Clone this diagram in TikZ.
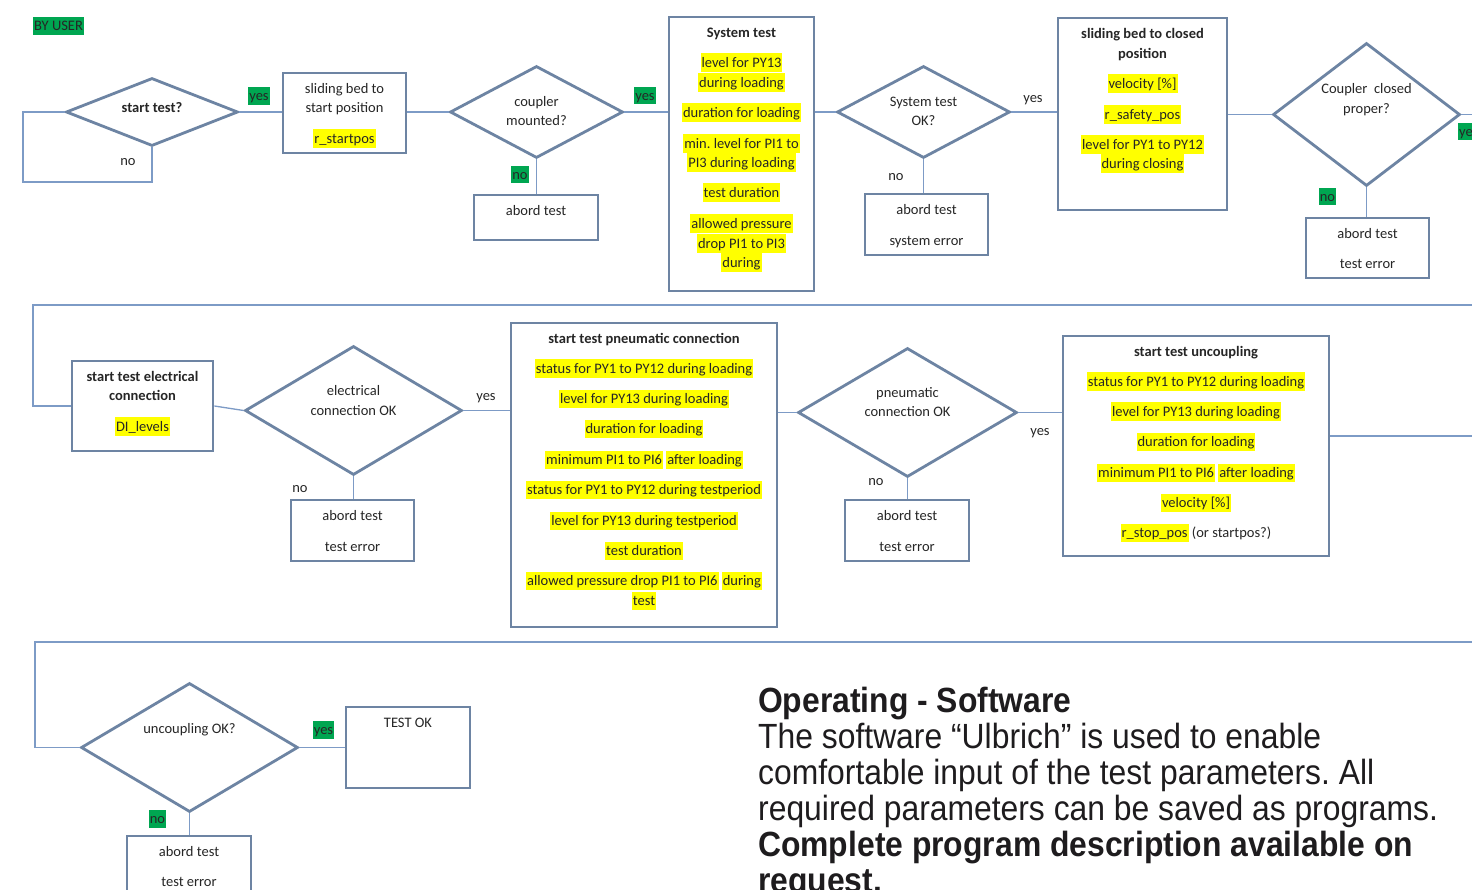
\documentclass[tikz,border=0pt]{standalone}
\usepackage{fontspec}
\setmainfont{Carlito}
\newfontfamily\notefont[FakeStretch=0.91]{Liberation Sans}
\usetikzlibrary{shapes.geometric}
\frenchspacing

\definecolor{shpc}{RGB}{109,132,163}
\definecolor{lnc}{RGB}{125,155,198}
\definecolor{hlgreen}{RGB}{0,166,81}
\definecolor{hlyellow}{RGB}{255,255,0}
\definecolor{txtc}{RGB}{38,38,38}
\definecolor{notec}{RGB}{30,28,30}

% highlighted text runs
\newcommand{\hly}[1]{{\setlength{\fboxsep}{0pt}\colorbox{hlyellow}{\rule[-4.5pt]{0pt}{18.5pt}\kern1pt#1\kern1pt}}}
\newcommand{\hlg}[1]{{\setlength{\fboxsep}{0pt}\colorbox{hlgreen}{\rule[-4pt]{0pt}{17.5pt}\kern1pt#1\kern1pt}}}

\tikzset{
  box/.style={draw=shpc, line width=2.8pt, rectangle, inner sep=0pt},
  dec/.style={draw=shpc, line width=2.8pt, diamond, aspect=1, inner sep=0pt},
  conn/.style={draw=lnc, line width=1.3pt},
  txt/.style={inner sep=0pt, anchor=base, yshift=-1pt, text=txtc, font=\fontsize{14.5}{20}\selectfont},
  btxt/.style={txt, font=\fontsize{14.5}{20}\selectfont\bfseries},
  note/.style={inner sep=0pt, anchor=base west, text=notec, font=\notefont\fontsize{35}{36}\selectfont},
  bnote/.style={note, font=\notefont\fontsize{35}{36}\selectfont\bfseries},
}

\begin{document}
\begin{tikzpicture}[x=1pt, y=-1pt]
\useasboundingbox (0,0) rectangle (1472,890);
\clip (0,0) rectangle (1472,890);
\fill[white] (0,0) rectangle (1472,890);

\node[txt, anchor=base west] (byuser) at (33,30) {\hlg{BY USER}};

% ---------------- first row ----------------
\node[dec, minimum width=172, minimum height=68] (d1) at (152,112) {};
\node[btxt] (d1t) at (152,111.5) {start test?};
\coordinate (loop) at (23,182);
\draw[conn] (d1.west) -| (loop) -| (d1.south);
\node[txt] (d1no) at (128,164.5) {no};

\node[box, minimum width=123, minimum height=80] (sb) at (344.5,113) {};
\node[txt] (sb1) at (344.5,92.5) {sliding bed to};
\node[txt] (sb2) at (344.5,111.5) {start position};
\node[txt] (sb3) at (344.5,142.5) {\hly{r\_startpos}};
\draw[conn] (d1.east) -- (d1.east -| sb.west);
\node[txt] (d1yes) at (259,100) {\hlg{yes}};

\node[dec, minimum width=173, minimum height=92] (d2) at (536.5,112) {};
\node[txt] (d2a) at (536.5,105.5) {coupler};
\node[txt] (d2b) at (536.5,124.5) {mounted?};
\draw[conn] (d2.west -| sb.east) -- (d2.west);

\node[box, minimum width=124, minimum height=45] (ab1) at (536,217.5) {};
\node[txt] (ab1a) at (536,214.5) {abord test};
\draw[conn] (d2.south) -- (d2.south |- ab1.north);
\node[txt] (d2no) at (520,178.5) {\hlg{no}};

\node[box, minimum width=145, minimum height=274] (sys) at (741.5,154) {};
\node[btxt] (sys0) at (741.5,36.5) {System test};
\node[txt] (sys1) at (741.5,66.5) {\hly{level for PY13}};
\node[txt] (sys2) at (741.5,86.5) {\hly{during loading}};
\node[txt] (sys3) at (741.5,116.5) {\hly{duration for loading}};
\node[txt] (sys4) at (741.5,147.5) {\hly{min. level for PI1 to}};
\node[txt] (sys5) at (741.5,166.5) {\hly{PI3 during loading}};
\node[txt] (sys6) at (741.5,196.5) {\hly{test duration}};
\node[txt] (sys7) at (741.5,227.5) {\hly{allowed pressure}};
\node[txt] (sys8) at (741.5,247.5) {\hly{drop PI1 to PI3}};
\node[txt] (sys9) at (741.5,266.5) {\hly{during}};
\draw[conn] (d2.east) -- (d2.east -| sys.west);
\node[txt] (d2yes) at (645,99.5) {\hlg{yes}};

\node[dec, minimum width=173, minimum height=92] (d3) at (923.5,112) {};
\node[txt] (d3a) at (923.5,105.5) {System test};
\node[txt] (d3b) at (923.5,124.5) {OK?};
\draw[conn] (d3.west -| sys.east) -- (d3.west);

\node[box, minimum width=123, minimum height=61] (ab2) at (926.5,224.5) {};
\node[txt] (ab2a) at (926.5,213.5) {abord test};
\node[txt] (ab2b) at (926.5,244.5) {system error};
\draw[conn] (d3.south) -- (d3.south |- ab2.north);
\node[txt] (d3no) at (896,179.5) {no};

\node[box, minimum width=169, minimum height=192] (cl) at (1142.5,114) {};
\node[btxt] (cl0) at (1142.5,37.5) {sliding bed to closed};
\node[btxt] (cl1) at (1142.5,57.5) {position};
\node[txt] (cl2) at (1142.5,87.5) {\hly{velocity [\%]}};
\node[txt] (cl3) at (1142.5,118.5) {\hly{r\_safety\_pos}};
\node[txt] (cl4) at (1142.5,148.5) {\hly{level for PY1 to PY12}};
\node[txt] (cl5) at (1142.5,167.5) {\hly{during closing}};
\draw[conn] (d3.east) -- (d3.east -| cl.west);
\node[txt] (d3yes) at (1033,101.5) {yes};

\node[dec, minimum width=187, minimum height=143] (d4) at (1366.5,114.5) {};
\node[txt] (d4a) at (1366.5,92.5) {Coupler\ \ closed};
\node[txt] (d4b) at (1366.5,112.5) {proper?};
\draw[conn] (cl.east |- d4.west) -- (d4.west);
\coordinate (out1) at (1472,114.5);
\draw[conn] (d4.east) -- (out1);
\node[txt, anchor=base west] (d4yes) at (1458,135.5) {\hlg{yes}};

\node[box, minimum width=123, minimum height=60] (ab3) at (1367.5,248) {};
\node[txt] (ab3a) at (1367.5,237.5) {abord test};
\node[txt] (ab3b) at (1367.5,267.5) {test error};
\draw[conn] (d4.south) -- (d4.south |- ab3.north);
\node[txt] (d4no) at (1327.5,200.5) {\hlg{no}};

% ---------------- second row ----------------
\coordinate (wrapA) at (1472,305);
\coordinate (wrapB) at (33,305);
\node[box, minimum width=141, minimum height=90] (el) at (142.5,406) {};
\draw[conn] (wrapA) -- (wrapB) |- (el.west);
\node[btxt] (el0) at (142.5,380.5) {start test electrical};
\node[btxt] (el1) at (142.5,399.5) {connection};
\node[txt] (el2) at (142.5,430.5) {\hly{DI\_levels}};

\node[dec, minimum width=217, minimum height=129] (d5) at (353.5,410.5) {};
\node[txt] (d5a) at (353.5,394.5) {electrical};
\node[txt] (d5b) at (353.5,414.5) {connection OK};
\draw[conn] (el.east) -- (d5.west);

\node[box, minimum width=123, minimum height=61] (ab4) at (352.5,530.5) {};
\node[txt] (ab4a) at (352.5,519.5) {abord test};
\node[txt] (ab4b) at (352.5,550.5) {test error};
\draw[conn] (d5.south) -- (d5.south |- ab4.north);
\node[txt] (d5no) at (300,491.5) {no};

\node[box, minimum width=266, minimum height=304] (pn) at (644,475) {};
\node[btxt] (pn0) at (644,342.5) {start test pneumatic connection};
\node[txt] (pn1) at (644,372.5) {\hly{status for PY1 to PY12 during loading}};
\node[txt] (pn2) at (644,402.5) {\hly{level for PY13 during loading}};
\node[txt] (pn3) at (644,432.5) {\hly{duration for loading}};
\node[txt] (pn4) at (644,463.5) {\hly{minimum PI1 to PI6} \hly{after loading}};
\node[txt] (pn5) at (644,493.5) {\hly{status for PY1 to PY12 during testperiod}};
\node[txt] (pn6) at (644,524.5) {\hly{level for PY13 during testperiod}};
\node[txt] (pn7) at (644,554.5) {\hly{test duration}};
\node[txt] (pn8) at (644,584.5) {\hly{allowed pressure drop PI1 to PI6} \hly{during}};
\node[txt] (pn9) at (644,604.5) {\hly{test}};
\draw[conn] (d5.east) -- (d5.east -| pn.west);
\node[txt] (d5yes) at (486,399.5) {yes};

\node[dec, minimum width=219, minimum height=129] (d6) at (907.5,412.5) {};
\node[txt] (d6a) at (907.5,396.5) {pneumatic};
\node[txt] (d6b) at (907.5,415.5) {connection OK};
\draw[conn] (d6.west -| pn.east) -- (d6.west);

\node[box, minimum width=124, minimum height=61] (ab5) at (907,530.5) {};
\node[txt] (ab5a) at (907,519.5) {abord test};
\node[txt] (ab5b) at (907,550.5) {test error};
\draw[conn] (d6.south) -- (d6.south |- ab5.north);
\node[txt] (d6no) at (876,484.5) {no};

\node[box, minimum width=266, minimum height=220] (un) at (1196,446) {};
\node[btxt] (un0) at (1196,355.5) {start test uncoupling};
\node[txt] (un1) at (1196,385.5) {\hly{status for PY1 to PY12 during loading}};
\node[txt] (un2) at (1196,415.5) {\hly{level for PY13 during loading}};
\node[txt] (un3) at (1196,445.5) {\hly{duration for loading}};
\node[txt] (un4) at (1196,476.5) {\hly{minimum PI1 to PI6} \hly{after loading}};
\node[txt] (un5) at (1196,506.5) {\hly{velocity [\%]}};
\node[txt] (un6) at (1196,536.5) {\hly{r\_stop\_pos} (or startpos?)};
\draw[conn] (d6.east) -- (d6.east -| un.west);
\node[txt] (d6yes) at (1040,434.5) {yes};
\coordinate (out2) at (1472,436);
\draw[conn] (un.east |- out2) -- (out2);

% ---------------- third row ----------------
\coordinate (wrapC) at (1472,642);
\coordinate (wrapD) at (35,642);
\node[dec, minimum width=217, minimum height=129] (d7) at (189.5,747.5) {};
\node[txt] (d7a) at (189.5,732.5) {uncoupling OK?};
\draw[conn] (wrapC) -- (wrapD) |- (d7.west);

\node[box, minimum width=124, minimum height=81] (ok) at (408,747.5) {};
\node[txt] (ok0) at (408,726.5) {TEST OK};
\draw[conn] (d7.east) -- (d7.east -| ok.west);
\node[txt] (d7yes) at (323.5,733.5) {\hlg{yes}};

\node[box, minimum width=124, minimum height=60] (ab6) at (189,866) {};
\node[txt] (ab6a) at (189,855.5) {abord test};
\node[txt] (ab6b) at (189,885.5) {test error};
\draw[conn] (d7.south) -- (d7.south |- ab6.north);
\node[txt] (d7no) at (157.5,822.5) {\hlg{no}};

% ---------------- software note ----------------
\node[bnote] (n1) at (758,712) {Operating - Software};
\node[note] (n2) at (758,748) {The software “Ulbrich” is used to enable};
\node[note] (n3) at (758,784) {comfortable input of the test parameters. All};
\node[note] (n4) at (758,820) {required parameters can be saved as programs.};
\node[bnote] (n5) at (758,856) {Complete program description available on};
\node[bnote] (n6) at (758,892) {request.};
\end{tikzpicture}
\end{document}
